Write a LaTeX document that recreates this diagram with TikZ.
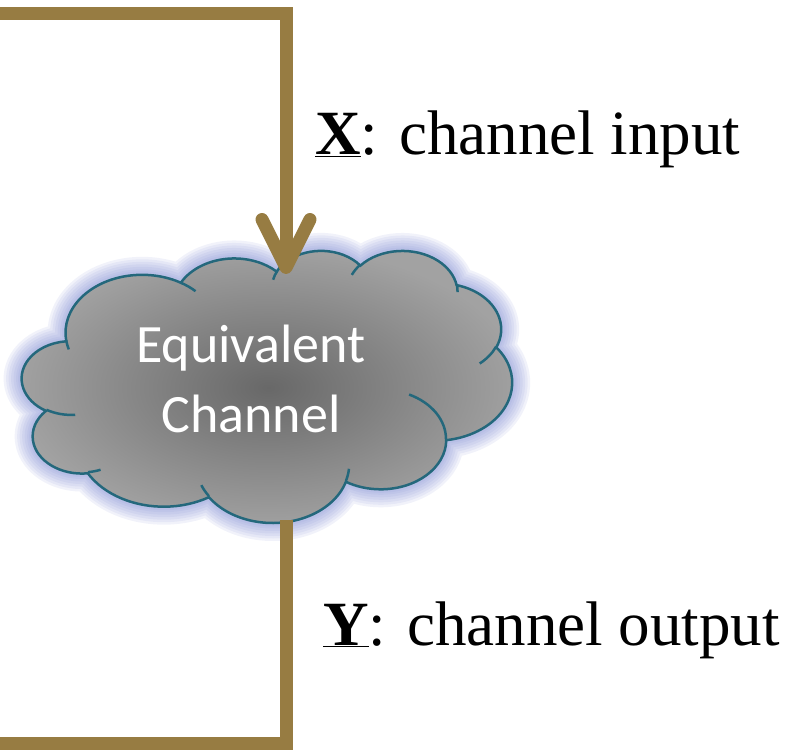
\documentclass[tikz,border=0pt]{standalone}
\usepackage{fontspec}
\setmainfont{Liberation Serif}
\newfontfamily\cloudfont{Carlito}
\usetikzlibrary{arrows.meta}

\definecolor{wirecol}{RGB}{151,124,66}
\definecolor{cloudedge}{RGB}{36,104,124}
\definecolor{glowcol}{RGB}{128,140,210}
\definecolor{cloudin}{RGB}{104,104,104}
\definecolor{cloudout}{RGB}{162,162,162}

% one puff of the cloud: x radius, y radius, start angle, sweep
\newcommand{\puff}[4]{\pgfextra{%
	\pgfmathsetmacro\pa{atan2((#1)*sin(#3),(#2)*cos(#3))}%
	\pgfmathsetmacro\pb{atan2((#1)*sin((#3)+(#4)),(#2)*cos((#3)+(#4)))}%
	\pgfmathsetmacro\pd{mod(\pb-\pa+720,360)}%
	\global\let\pa\pa\global\let\pd\pd}
	arc[x radius=#1, y radius=#2, start angle=\pa, delta angle=\pd]}

\tikzset{
	wire/.style={draw=wirecol, line width=13pt},
	halo/.style={preaction={draw=glowcol, line width=#1, opacity=.11, line join=round}},
	glow/.style={halo=36pt, halo=31pt, halo=26pt, halo=21pt, halo=16pt, halo=11pt, halo=7pt},
	cloudline/.style={draw=cloudedge, line width=2.5pt},
	lbl/.style={inner sep=0pt, anchor=base west, font=\fontsize{63}{70}\selectfont}
}

\begin{document}
\begin{tikzpicture}[x=1pt,y=1pt]
	\useasboundingbox (0,0) rectangle (805,750);

	\begin{scope}[shift={(22,500)},xscale=4.9,yscale=-2.72]
		\path[glow, cloudline, shading=radial, inner color=cloudin, outer color=cloudout]
			(9.0278,33.2639)
			\puff{15.6319}{21.2731}{-190.4875}{123.7805}
			\puff{12.3449}{16.8218}{-144.1024}{89.9452}
			\puff{10.1042}{13.7616}{-145.8079}{99.7230}
			\puff{11.2431}{15.2662}{-130.9861}{117.2417}
			\puff{12.3449}{16.8356}{-78.7089}{109.0269}
			\puff{15.6829}{21.3426}{-46.2673}{130.2690}
			\puff{13.3912}{18.2106}{0.6250}{114.0333}
			\puff{15.6296}{21.3310}{22.4516}{115.1726}
			\puff{17.8704}{24.4051}{66.2426}{75.7110}
			\puff{10.0926}{13.6991}{-274.9421}{146.7356}
			\puff{10.0579}{13.7616}{-246.8285}{152.5189}
			-- cycle;
		\path[cloudline]
			(10.8634,60.5949) \puff{10.0579}{13.7616}{86.7420}{26.4295}
			(16.0370,80.7847) \puff{10.0926}{13.6991}{73.6105}{11.4475}
			(38.1435,90.4861) \puff{15.6296}{21.3310}{137.6242}{14.0811}
			(66.7292,80.4421) \puff{15.6296}{21.3310}{6.4533}{15.9984}
			(79.0023,53.1343) \puff{13.3912}{18.2106}{-70.2924}{70.9174}
			(96.7546,35.5417) \puff{12.3449}{16.8356}{30.3180}{27.7515}
			(88.7130,12.5602) \puff{11.2431}{15.2662}{-13.7443}{14.8589}
			(67.3102,9.1481) \puff{11.2431}{15.2662}{-149.1815}{18.1954}
			(51.2523,10.9259) \puff{10.1042}{13.7616}{-163.4943}{17.6864}
			(32.4074,12.0185) \puff{15.6319}{21.2731}{-66.7070}{12.3194}
			(9.5532,36.5486) \puff{15.6319}{21.2731}{157.6544}{11.8582};
	\end{scope}

	\node[text=white, align=center, font=\cloudfont\fontsize{54}{70}\selectfont] (chan) at (251,371) {Equivalent\\Channel};

	\coordinate (inL) at (0,736);
	\coordinate (inC) at (286,736);
	\coordinate (chantop) at (286,476);
	\coordinate (chanbot) at (286,230);
	\coordinate (outC) at (286,7);
	\coordinate (outL) at (0,7);

	\draw[wire, -{Straight Barb[length=48pt,width=48pt,round]}] (inL) -- (inC) -- (chantop);
	\draw[wire] (chanbot) -- (outC) -- (outL);

	\node[lbl] (xlab) at (315,595) {\underline{\textbf{X}}: channel input};
	\node[lbl] (ylab) at (323,105) {\underline{\textbf{Y}}: channel output};
\end{tikzpicture}
\end{document}
